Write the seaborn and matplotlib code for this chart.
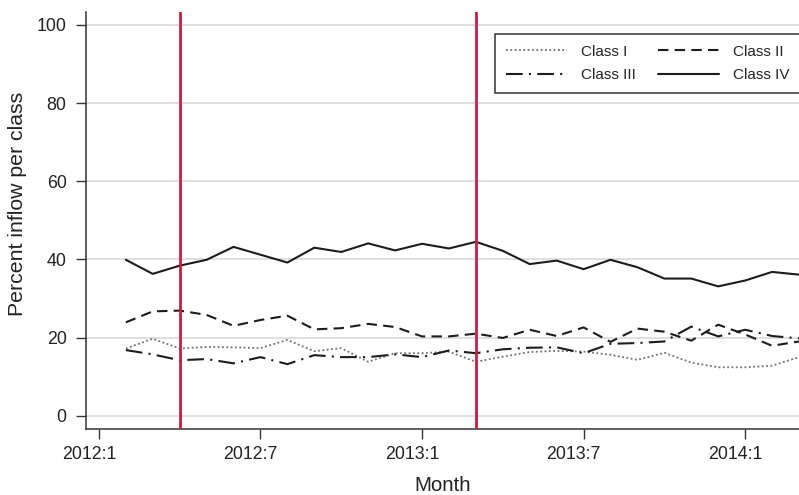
import matplotlib
matplotlib.use("Agg")
import matplotlib.pyplot as plt
import matplotlib.transforms as mtransforms
from matplotlib.lines import Line2D
import pandas as pd
import seaborn as sns

# Monthly share of inflow (percent) by class
months = ["2012:2", "2012:3", "2012:4", "2012:5", "2012:6", "2012:7", "2012:8",
          "2012:9", "2012:10", "2012:11", "2012:12", "2013:1", "2013:2", "2013:3",
          "2013:4", "2013:5", "2013:6", "2013:7", "2013:8", "2013:9", "2013:10",
          "2013:11", "2013:12", "2014:1", "2014:2", "2014:3"]
class_i = [17.2, 19.7, 17.2, 17.6, 17.5, 17.3, 19.4, 16.5, 17.3, 13.8, 16.0, 16.0, 16.4,
           13.8, 15.1, 16.3, 16.6, 16.4, 15.6, 14.3, 16.1, 13.6, 12.4, 12.4, 12.8, 15.0]
class_ii = [23.9, 26.7, 26.9, 25.8, 23.0, 24.5, 25.6, 22.1, 22.4, 23.5, 22.7, 20.3, 20.3,
            21.0, 19.9, 22.0, 20.4, 22.6, 18.9, 22.3, 21.5, 19.2, 23.3, 20.8, 17.9, 19.0]
class_iii = [16.8, 15.7, 14.2, 14.5, 13.4, 15.0, 13.2, 15.5, 15.0, 15.0, 15.7, 15.0, 16.7,
             16.0, 17.0, 17.4, 17.5, 16.0, 18.4, 18.6, 19.0, 22.8, 20.3, 22.0, 20.4, 19.8]
class_iv = [39.9, 36.3, 38.4, 39.9, 43.2, 41.2, 39.2, 43.0, 41.9, 44.1, 42.3, 44.0, 42.8,
            44.5, 42.2, 38.8, 39.7, 37.5, 39.9, 38.0, 35.1, 35.1, 33.1, 34.6, 36.8, 36.1]
class_names = ["Class I", "Class II", "Class III", "Class IV"]

tick_labels = ["2012:1", "2012:7", "2013:1", "2013:7", "2014:1"]
event_months = ["2012:4", "2013:3"]
y_ticks = [0, 20, 40, 60, 80, 100]


def month_index(label):
    year, month = label.split(":")
    return (int(year) - 2012) * 12 + int(month) - 1


series = [class_i, class_ii, class_iii, class_iv]
df = pd.DataFrame({
    "t": [month_index(m) for m in months] * len(series),
    "share": [v for s in series for v in s],
    "cls": [c for c in class_names for _ in months],
})

sns.set_theme(style="white")
plt.rcParams["font.family"] = ["Liberation Sans", "DejaVu Sans"]
plt.rcParams["text.color"] = "#222222"
plt.rcParams["axes.labelcolor"] = "#222222"
plt.rcParams["xtick.color"] = "#222222"
plt.rcParams["ytick.color"] = "#222222"

styles = {
    "Class I": dict(color="#707070", lw=1.3, ls=(0, (1, 1.4))),
    "Class II": dict(color="#1c1c1c", lw=1.5, ls=(0, (5, 3))),
    "Class III": dict(color="#1c1c1c", lw=1.5, ls=(0, (8, 3, 1, 3))),
    "Class IV": dict(color="#1c1c1c", lw=1.5, ls="-"),
}

fig = plt.figure(figsize=(7.99, 4.95), dpi=100)
ax = fig.add_axes([0.1076, 0.1333, 0.8924, 0.8424])

for name in class_names:
    st = styles[name]
    sns.lineplot(data=df[df["cls"] == name], x="t", y="share", ax=ax,
                 color=st["color"], linewidth=st["lw"], linestyle=st["ls"],
                 errorbar=None, legend=False, zorder=2)

for m in event_months:
    ax.axvline(month_index(m), color="#c8203c", lw=2.0, zorder=3)

ax.set_xlim(-0.48, 26.0)
ax.set_ylim(-3.4, 103.3)
ax.set_xticks([month_index(t) for t in tick_labels])
ax.set_xticklabels(tick_labels)
ax.set_yticks(y_ticks)
ax.set_yticklabels([str(v) for v in y_ticks])

ax.set_axisbelow(True)
ax.yaxis.grid(True, color="#d6d6d6", lw=1.1)
ax.xaxis.grid(False)
for side in ["top", "right"]:
    ax.spines[side].set_visible(False)
for side in ["left", "bottom"]:
    ax.spines[side].set_color("#333333")
    ax.spines[side].set_linewidth(1.1)

ax.tick_params(axis="both", direction="out", length=7, width=1.0, color="#333333",
               labelsize=12.8, left=True, bottom=True)
ax.tick_params(axis="y", pad=7)
ax.tick_params(axis="x", pad=5)
shift = mtransforms.ScaledTranslation(-10 / 100, 0, fig.dpi_scale_trans)
for lab in ax.get_xticklabels():
    lab.set_transform(lab.get_transform() + shift)

ax.set_xlabel("Month", fontsize=14.8)
ax.set_ylabel("Percent inflow per class", fontsize=15.3)
ax.xaxis.set_label_coords(0.5, -0.112)
ax.yaxis.set_label_coords(-0.083, 0.54)

handles = {name: Line2D([], [], color=styles[name]["color"], lw=styles[name]["lw"],
                        linestyle=styles[name]["ls"]) for name in class_names}
order = ["Class I", "Class III", "Class II", "Class IV"]
leg = ax.legend([handles[n] for n in order], order, ncol=2, loc="upper left",
                bbox_to_anchor=(0.5736, 0.947), fontsize=11, frameon=True,
                fancybox=False, edgecolor="#333333", framealpha=1,
                handlelength=4.0, handletextpad=0.9, columnspacing=1.5,
                labelspacing=0.6, borderpad=0.7, borderaxespad=0)
leg.get_frame().set_linewidth(1.1)

fig.savefig("out.png", dpi=100)
